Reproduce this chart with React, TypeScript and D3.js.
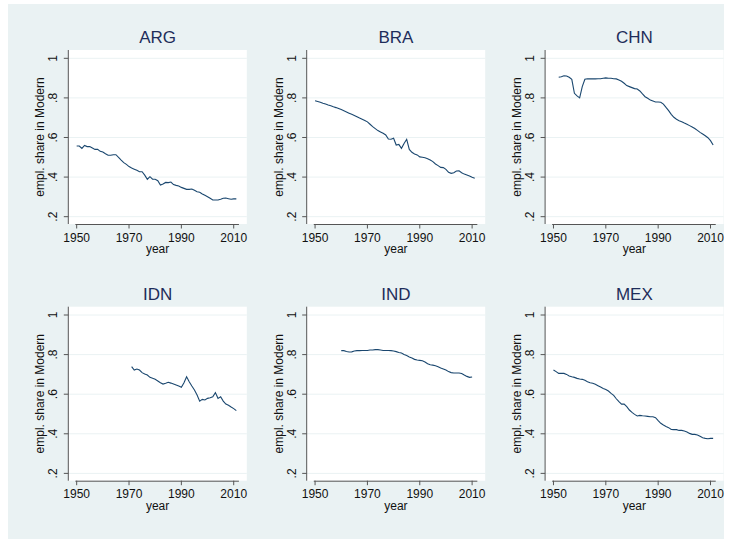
import React from 'react';
import * as d3 from 'd3';

const countries = ['ARG', 'BRA', 'CHN', 'IDN', 'IND', 'MEX'];
const startYears = [1950, 1950, 1952, 1971, 1960, 1950];

const argValues = [
  0.557, 0.557, 0.545, 0.56, 0.554, 0.554, 0.547, 0.54, 0.54, 0.53,
  0.527, 0.518, 0.51, 0.51, 0.513, 0.513, 0.5, 0.486, 0.473, 0.464,
  0.453, 0.446, 0.44, 0.434, 0.427, 0.427, 0.41, 0.389, 0.402, 0.389,
  0.389, 0.382, 0.36, 0.365, 0.373, 0.372, 0.375, 0.362, 0.358, 0.355,
  0.348, 0.343, 0.338, 0.338, 0.34, 0.333, 0.326, 0.323, 0.315, 0.308,
  0.301, 0.293, 0.284, 0.284, 0.284, 0.288, 0.293, 0.294, 0.291, 0.288,
  0.29, 0.29,
];
const braValues = [
  0.786, 0.782, 0.778, 0.773, 0.769, 0.764, 0.76, 0.755, 0.751, 0.746,
  0.741, 0.735, 0.729, 0.723, 0.717, 0.711, 0.705, 0.698, 0.692, 0.686,
  0.679, 0.667, 0.655, 0.645, 0.635, 0.628, 0.621, 0.613, 0.592, 0.591,
  0.596, 0.562, 0.565, 0.545, 0.57, 0.591, 0.54, 0.525, 0.517, 0.512,
  0.502, 0.5, 0.498, 0.493, 0.486, 0.478, 0.466, 0.458, 0.449, 0.448,
  0.439, 0.424, 0.419, 0.422, 0.431, 0.432, 0.422, 0.415, 0.41, 0.405,
  0.399, 0.394,
];
const chnValues = [
  0.904, 0.907, 0.912, 0.911, 0.904, 0.894, 0.823, 0.81, 0.8, 0.857,
  0.894, 0.897, 0.896, 0.896, 0.896, 0.897, 0.897, 0.899, 0.901, 0.899,
  0.899, 0.897, 0.896, 0.891, 0.884, 0.874, 0.862, 0.857, 0.852, 0.847,
  0.845, 0.835, 0.82, 0.806, 0.798, 0.789, 0.784, 0.779, 0.779, 0.778,
  0.769, 0.752, 0.736, 0.717, 0.702, 0.692, 0.685, 0.68, 0.673, 0.667,
  0.66, 0.653, 0.645, 0.636, 0.626, 0.618, 0.609, 0.599, 0.584, 0.562,
];
const idnValues = [
  0.739, 0.722, 0.727, 0.722, 0.709, 0.702, 0.697, 0.685, 0.68, 0.675,
  0.667, 0.658, 0.651, 0.655, 0.66, 0.656, 0.651, 0.646, 0.641, 0.635,
  0.658, 0.688, 0.663, 0.641, 0.621, 0.596, 0.565, 0.574, 0.571, 0.579,
  0.582, 0.587, 0.608, 0.579, 0.587, 0.565, 0.55, 0.544, 0.535, 0.527,
  0.517,
];
const indValues = [
  0.82, 0.82, 0.816, 0.813, 0.814, 0.818, 0.82, 0.82, 0.821, 0.821,
  0.821, 0.823, 0.823, 0.825, 0.825, 0.823, 0.821, 0.821, 0.821, 0.82,
  0.818, 0.815, 0.811, 0.808, 0.801, 0.795, 0.788, 0.783, 0.776, 0.773,
  0.771, 0.769, 0.763, 0.754, 0.749, 0.747, 0.744, 0.739, 0.732, 0.727,
  0.722, 0.714, 0.709, 0.707, 0.707, 0.707, 0.705, 0.697, 0.69, 0.685,
  0.687,
];
const mexValues = [
  0.722, 0.714, 0.705, 0.705, 0.705, 0.7, 0.692, 0.688, 0.685, 0.68,
  0.677, 0.675, 0.67, 0.663, 0.658, 0.655, 0.65, 0.643, 0.636, 0.629,
  0.624, 0.616, 0.604, 0.594, 0.577, 0.562, 0.55, 0.55, 0.537, 0.52,
  0.508, 0.498, 0.49, 0.493, 0.491, 0.49, 0.488, 0.486, 0.486, 0.481,
  0.466, 0.453, 0.444, 0.437, 0.431, 0.422, 0.421, 0.421, 0.417, 0.417,
  0.414, 0.409, 0.402, 0.397, 0.397, 0.394, 0.387, 0.38, 0.377, 0.375,
  0.377, 0.377,
];
const seriesValues = [argValues, braValues, chnValues, idnValues, indValues, mexValues];

const xTicks = [1950, 1970, 1990, 2010];
const yTicks = [0.2, 0.4, 0.6, 0.8, 1];
const yTickLabels = ['.2', '.4', '.6', '.8', '1'];
const xTitle = 'year';
const yTitle = 'empl. share in Modern';

const FONT = '"Liberation Sans", Arial, Helvetica, sans-serif';
const BG = '#EAF2F3';
const LINE = '#1A476F';
const AXIS = '#555555';

export default function App() {
  const W = 737;
  const H = 539;
  const pw = 178.5;
  const ph = 174;
  const left0 = 68.3;
  const top0 = 50;
  const dx = 238.4;
  const dy = 256.7;

  return (
    <svg
      width={W}
      height={H}
      style={{ position: 'absolute', left: 0, top: 0, fontFamily: FONT }}
    >
      <rect x={0} y={0} width={W} height={H} fill="#ffffff" />
      <rect x={8} y={4} width={716} height={535} fill={BG} />
      {countries.map((name, i) => {
        const c = i % 3;
        const r = Math.floor(i / 3);
        const L = left0 + c * dx;
        const T = top0 + r * dy;
        const x = d3.scaleLinear().domain([1946.8, 2015]).range([L, L + pw]);
        const y = d3.scaleLinear().domain([0.163, 1.042]).range([T + ph, T]);
        const vals = seriesValues[i];
        const pts = vals.map((v, k) => [startYears[i] + k, v] as [number, number]);
        const line = d3
          .line<[number, number]>()
          .x((d) => x(d[0]))
          .y((d) => y(d[1]));
        const cx = L + pw / 2;
        const cy = T + ph / 2;
        return (
          <g key={name}>
            <rect x={L} y={T} width={pw} height={ph} fill="#ffffff" />
            {yTicks.map((t) => (
              <line
                key={'g' + t}
                x1={L}
                x2={L + pw}
                y1={y(t)}
                y2={y(t)}
                stroke={BG}
                strokeWidth={1}
              />
            ))}
            <path d={line(pts) || ''} fill="none" stroke={LINE} strokeWidth={1.1} />
            <line x1={L} x2={L} y1={T} y2={T + ph} stroke={AXIS} strokeWidth={1} />
            {yTicks.map((t, k) => (
              <g key={'yt' + t}>
                <line x1={L - 4.5} x2={L} y1={y(t)} y2={y(t)} stroke={AXIS} strokeWidth={1} />
                <text
                  transform={`translate(${L - 11},${y(t)}) rotate(-90)`}
                  textAnchor="middle"
                  fontSize={12}
                  fill="#111"
                >
                  {yTickLabels[k]}
                </text>
              </g>
            ))}
            <line
              x1={x(1949.5)}
              x2={x(2012)}
              y1={T + ph + 0.5}
              y2={T + ph + 0.5}
              stroke={AXIS}
              strokeWidth={1}
            />
            {xTicks.map((t) => (
              <g key={'xt' + t}>
                <line x1={x(t)} x2={x(t)} y1={T + ph} y2={T + ph + 4.5} stroke={AXIS} strokeWidth={1} />
                <text x={x(t)} y={T + ph + 17.5} textAnchor="middle" fontSize={12} fill="#111">
                  {t}
                </text>
              </g>
            ))}
            <text x={cx} y={T + ph + 29} textAnchor="middle" fontSize={12} fill="#111">
              {xTitle}
            </text>
            <text
              transform={`translate(${L - 24},${cy}) rotate(-90)`}
              textAnchor="middle"
              fontSize={12}
              fill="#111"
            >
              {yTitle}
            </text>
            <text x={cx} y={T - 7} textAnchor="middle" fontSize={17} fill="#1E2D5A">
              {name}
            </text>
          </g>
        );
      })}
    </svg>
  );
}
